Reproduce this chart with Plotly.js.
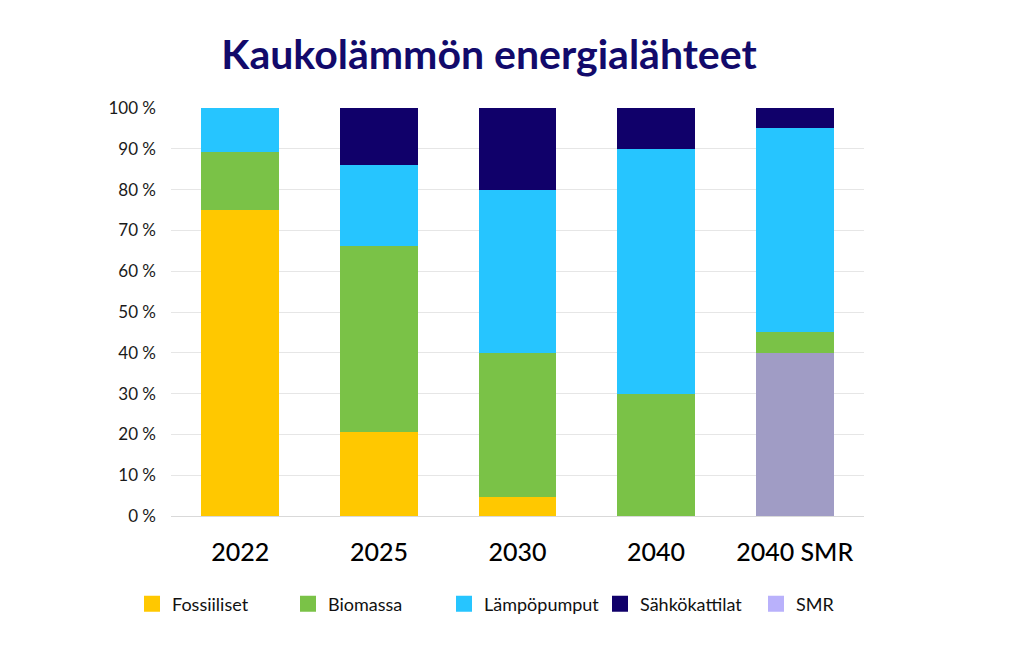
<!DOCTYPE html>
<html>
<head>
<meta charset="utf-8">
<script src="https://cdn.plot.ly/plotly-3.0.1.min.js"></script>
<style>
  html, body { margin: 0; padding: 0; background: #ffffff; }
  #chart { width: 1009px; height: 661px; }
</style>
</head>
<body>
<div id="chart"></div>
<script>
// vuodet / skenaariot
const years = ["2022", "2025", "2030", "2040", "2040 SMR"];

// osuudet prosentteina
const fossiiliset   = [75, 20.5, 4.7, 0, 0];
const biomassa      = [14.2, 45.7, 35.3, 30, 5];
const lampopumput   = [10.8, 19.8, 40, 60, 50];
const sahkokattilat = [0, 14, 20, 10, 5];
const smr           = [0, 0, 0, 0, 40];

const yTicks = [0, 10, 20, 30, 40, 50, 60, 70, 80, 90, 100];
const yTickText = yTicks.map(v => v + " %");

const fontFam = "Lato, 'Noto Sans', sans-serif";

function barTrace(name, values, color) {
  return {
    x: years,
    y: values,
    type: "bar",
    name: name,
    marker: { color: color },
    showlegend: false,
    hoverinfo: "x+y+name"
  };
}

// legend-only entries, drawn as bigger square swatches
function legendEntry(name, color, rank) {
  return {
    x: [years[0]],
    y: [null],
    type: "scatter",
    mode: "markers",
    name: name,
    legendrank: rank,
    marker: { symbol: "square", size: 16, color: color },
    hoverinfo: "skip"
  };
}

var data = [
  // SMR goes first so it sits at the bottom of the stack
  barTrace("SMR", smr, "#a09cc5"),
  barTrace("Fossiiliset", fossiiliset, "#ffc800"),
  barTrace("Biomassa", biomassa, "#7ac247"),
  barTrace("Lämpöpumput", lampopumput, "#26c5ff"),
  barTrace("Sähkökattilat", sahkokattilat, "#10006a"),
  legendEntry("Fossiiliset", "#ffc800", 1),
  legendEntry("Biomassa", "#7ac247", 2),
  legendEntry("Lämpöpumput", "#26c5ff", 3),
  legendEntry("Sähkökattilat", "#10006a", 4),
  legendEntry("SMR", "#b9b1fb", 5)
];

var layout = {
  width: 1009,
  height: 661,
  barmode: "stack",
  bargap: 0.44,
  paper_bgcolor: "#ffffff",
  plot_bgcolor: "#ffffff",
  margin: { l: 171, r: 145, t: 108, b: 145, pad: 0 },
  font: { family: fontFam, color: "#222222" },
  title: {
    text: "Kaukolämmön energialähteet",
    font: { family: fontFam, size: 41, color: "#120a6b", weight: 700 },
    x: 489 / 1009,
    xanchor: "center",
    y: 1 - 55 / 661,
    yanchor: "middle"
  },
  xaxis: {
    type: "category",
    tickfont: { size: 25, color: "#000000", weight: 500 },
    ticks: "",
    ticklabelstandoff: 14,
    showgrid: false,
    showline: true,
    linecolor: "#d9d9d9",
    linewidth: 1,
    fixedrange: true
  },
  yaxis: {
    range: [0, 100],
    tickvals: yTicks,
    ticktext: yTickText,
    tickfont: { size: 17, color: "#1a1a1a" },
    ticks: "",
    ticklabelstandoff: 14,
    showgrid: true,
    gridcolor: "#e6e6e6",
    gridwidth: 1,
    zeroline: false,
    showline: false,
    fixedrange: true
  },
  showlegend: true,
  legend: {
    orientation: "h",
    x: (132 - 171) / 693,
    xanchor: "left",
    y: (516 - 604) / 408,
    yanchor: "middle",
    font: { size: 18, color: "#111111" },
    traceorder: "normal",
    itemwidth: 30,
    entrywidth: 111
  }
};

Plotly.newPlot("chart", data, layout, { displayModeBar: false, staticPlot: true });
</script>
</body>
</html>
